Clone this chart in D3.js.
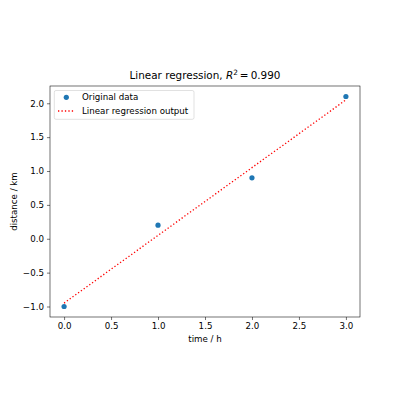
<!DOCTYPE html>
<html>
<head>
<meta charset="utf-8">
<script src="https://cdn.jsdelivr.net/npm/d3@7"></script>
<style>
  body { margin: 0; background: #fff; }
  text { font-family: "DejaVu Sans", sans-serif; fill: #000; }
</style>
</head>
<body>
<div id="chart"></div>
<script>
// data
const timeH = [0, 1, 2, 3];
const distanceKm = [-1.0, 0.2, 0.9, 2.1];
const fitKm = [-0.95, 0.05, 1.05, 2.05];
const xTicks = [0, 0.5, 1, 1.5, 2, 2.5, 3];
const yTicks = [-1, -0.5, 0, 0.5, 1, 1.5, 2];
const rSquared = "0.990";

const W = 400, H = 400;
const axLeft = 50, axRight = 360, axTop = 86, axBottom = 317;
const fs = 8.68;

const svg = d3.select("#chart")
  .append("svg")
  .attr("width", W)
  .attr("height", H);

const xScale = d3.scaleLinear().domain([-0.15, 3.15]).range([axLeft, axRight]);
const yScale = d3.scaleLinear().domain([-1.155, 2.255]).range([axBottom, axTop]);

// axes
const xAxis = d3.axisBottom(xScale).tickValues(xTicks).tickFormat(d3.format(".1f"))
  .tickSizeInner(3.04).tickSizeOuter(0).tickPadding(3.04);
const yAxis = d3.axisLeft(yScale).tickValues(yTicks).tickFormat(d3.format(".1f"))
  .tickSizeInner(3.04).tickSizeOuter(0).tickPadding(3.04);

const gx = svg.append("g").attr("transform", "translate(0," + axBottom + ")").call(xAxis);
const gy = svg.append("g").attr("transform", "translate(" + axLeft + ",0)").call(yAxis);
[gx, gy].forEach(function (g) {
  g.select(".domain").remove();
  g.selectAll(".tick line").attr("stroke", "#000").attr("stroke-width", 0.55);
  g.selectAll(".tick text")
    .attr("font-family", "DejaVu Sans")
    .attr("font-size", fs)
    .attr("fill", "#000");
});

// spines
svg.append("rect")
  .attr("x", axLeft).attr("y", axTop)
  .attr("width", axRight - axLeft).attr("height", axBottom - axTop)
  .attr("fill", "none").attr("stroke", "#000").attr("stroke-width", 0.55);

// regression line
const line = d3.line()
  .x(function (d, i) { return xScale(timeH[i]); })
  .y(function (d) { return yScale(d); });

svg.append("path")
  .datum(fitKm)
  .attr("fill", "none")
  .attr("stroke", "red")
  .attr("stroke-width", 1.3)
  .attr("stroke-dasharray", "1.3,2.15")
  .attr("d", line);

// data points
svg.selectAll(".pt")
  .data(distanceKm)
  .enter()
  .append("circle")
  .attr("class", "pt")
  .attr("cx", function (d, i) { return xScale(timeH[i]); })
  .attr("cy", function (d) { return yScale(d); })
  .attr("r", 2.6)
  .attr("fill", "#1f77b4");

// title
const title = svg.append("text")
  .attr("x", (axLeft + axRight) / 2)
  .attr("y", 78.5)
  .attr("text-anchor", "middle")
  .attr("font-size", 10.4);
title.append("tspan").text("Linear regression, ");
title.append("tspan").attr("font-style", "italic").text("R");
title.append("tspan").attr("font-size", 7.3).attr("dy", -4).text("2");
title.append("tspan").attr("dy", 4).text("\u2009=\u2009" + rSquared);

// axis labels
svg.append("text")
  .attr("x", (axLeft + axRight) / 2)
  .attr("y", 341.5)
  .attr("text-anchor", "middle")
  .attr("font-size", fs)
  .text("time / h");

svg.append("text")
  .attr("transform", "translate(17," + (axTop + axBottom) / 2 + ") rotate(-90)")
  .attr("text-anchor", "middle")
  .attr("font-size", fs)
  .text("distance / km");

// legend
const legend = svg.append("g");
legend.append("rect")
  .attr("x", 54.3).attr("y", 90.5)
  .attr("width", 139.7).attr("height", 28.8)
  .attr("rx", 1.7)
  .attr("fill", "#fff").attr("fill-opacity", 0.8)
  .attr("stroke", "#cccccc").attr("stroke-width", 0.6);

legend.append("circle")
  .attr("cx", 66.3).attr("cy", 97.3).attr("r", 2.6)
  .attr("fill", "#1f77b4");
legend.append("text")
  .attr("x", 82).attr("y", 100.3)
  .attr("font-size", fs)
  .text("Original data");

legend.append("line")
  .attr("x1", 58).attr("x2", 74.5)
  .attr("y1", 111).attr("y2", 111)
  .attr("stroke", "red").attr("stroke-width", 1.3)
  .attr("stroke-dasharray", "1.3,2.15");
legend.append("text")
  .attr("x", 82).attr("y", 114)
  .attr("font-size", fs)
  .text("Linear regression output");
</script>
</body>
</html>
